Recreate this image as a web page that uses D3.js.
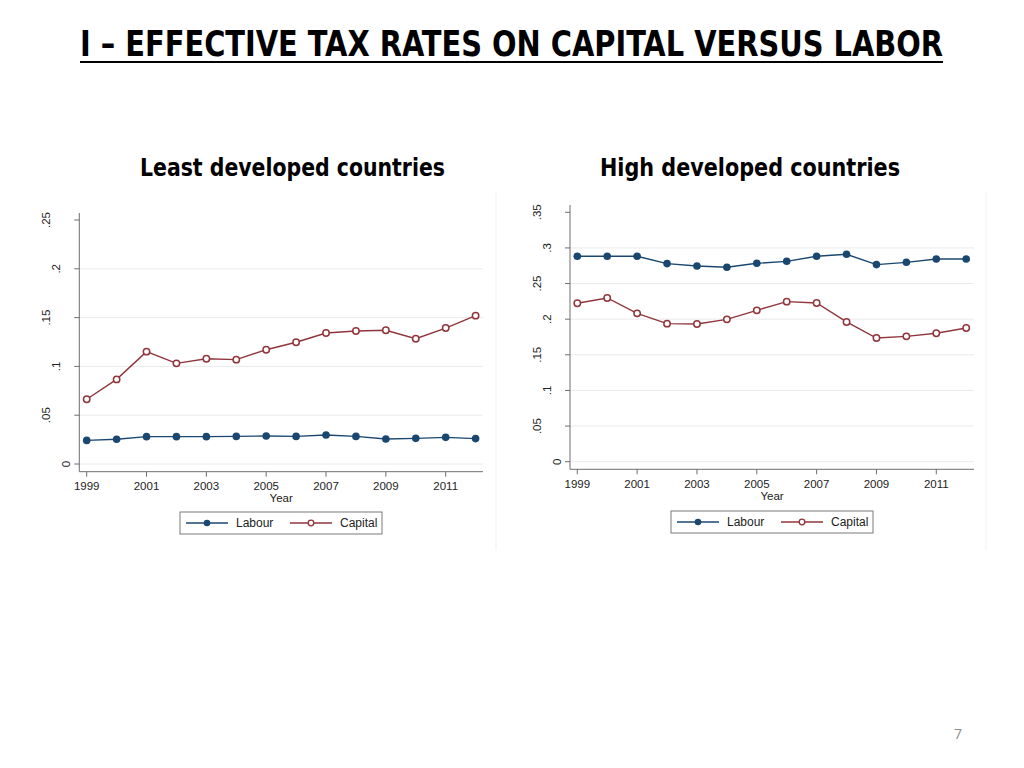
<!DOCTYPE html>
<html>
<head>
<meta charset="utf-8">
<script src="https://cdn.jsdelivr.net/npm/d3@7"></script>
<style>
  body { margin: 0; background: #fff; }
  svg { display: block; }
</style>
</head>
<body>
<script>
const years = [1999, 2000, 2001, 2002, 2003, 2004, 2005, 2006, 2007, 2008, 2009, 2010, 2011, 2012];
const xTicks = [1999, 2001, 2003, 2005, 2007, 2009, 2011];

const ldcLabour = [0.0242, 0.0253, 0.0280, 0.0280, 0.0280, 0.0283, 0.0287, 0.0283, 0.0297, 0.0283, 0.0256, 0.0263, 0.0273, 0.0260];
const ldcCapital = [0.0663, 0.0867, 0.1151, 0.1031, 0.1079, 0.1069, 0.1171, 0.1247, 0.1342, 0.1363, 0.1370, 0.1284, 0.1393, 0.1520];
const ldcTicks = [0, 0.05, 0.1, 0.15, 0.2, 0.25];
const ldcTickLabels = ["0", ".05", ".1", ".15", ".2", ".25"];

const hdcLabour = [0.2883, 0.2883, 0.2883, 0.2780, 0.2747, 0.2728, 0.2784, 0.2812, 0.2883, 0.2911, 0.2766, 0.2798, 0.2845, 0.2845];
const hdcCapital = [0.2223, 0.2298, 0.2082, 0.1937, 0.1933, 0.1998, 0.2124, 0.2246, 0.2227, 0.1961, 0.1736, 0.1759, 0.1802, 0.1876];
const hdcTicks = [0, 0.05, 0.1, 0.15, 0.2, 0.25, 0.3, 0.35];
const hdcTickLabels = ["0", ".05", ".1", ".15", ".2", ".25", ".3", ".35"];

const seriesNames = ["Labour", "Capital"];

const labourColor = "#1a476f";
const capitalColor = "#90353b";
const axisColor = "#6e6e6e";
const gridColor = "#eaeaea";
const tickFont = "'Liberation Sans', Arial, sans-serif";
const headFont = "'Liberation Sans Narrow', 'DejaVu Sans Condensed', 'Open Sans', sans-serif";

const svg = d3.select("body")
  .append("svg")
  .attr("width", 1024)
  .attr("height", 768);

// slide title
svg.append("text")
  .attr("x", 80)
  .attr("y", 56)
  .attr("textLength", 863)
  .attr("lengthAdjust", "spacingAndGlyphs")
  .style("font-family", headFont)
  .style("font-weight", "bold")
  .style("font-size", "35px")
  .style("fill", "#000")
  .text("I – EFFECTIVE TAX RATES ON CAPITAL VERSUS LABOR");

svg.append("line")
  .attr("x1", 80)
  .attr("x2", 943)
  .attr("y1", 62)
  .attr("y2", 62)
  .attr("stroke", "#000")
  .attr("stroke-width", 2);

svg.append("text")
  .attr("x", 958)
  .attr("y", 739)
  .attr("text-anchor", "middle")
  .style("font-family", "'Open Sans', sans-serif")
  .style("font-size", "14px")
  .style("fill", "#8c8c8c")
  .text("7");

// faint edges of the pasted graph images
svg.append("line")
  .attr("x1", 496).attr("x2", 496)
  .attr("y1", 192).attr("y2", 550)
  .attr("stroke", "#f1f1f1");
svg.append("line")
  .attr("x1", 986).attr("x2", 986)
  .attr("y1", 192).attr("y2", 550)
  .attr("stroke", "#f1f1f1");

function drawPanel(p) {
  const g = svg.append("g");

  g.append("text")
    .attr("x", p.titleX)
    .attr("y", 176)
    .attr("textLength", p.titleW)
    .attr("lengthAdjust", "spacingAndGlyphs")
    .style("font-family", headFont)
    .style("font-weight", "bold")
    .style("font-size", "25px")
    .style("fill", "#000")
    .text(p.title);

  const x = d3.scaleLinear().domain([1999, 2012]).range([p.x0, p.x1]);
  const y = d3.scaleLinear().domain([0, p.yMax]).range([p.y0, p.y1]);

  // gridlines
  g.selectAll(".grid")
    .data(p.ticks.slice(0, -1))
    .enter()
    .append("line")
    .attr("x1", p.axisX)
    .attr("x2", p.plotRight)
    .attr("y1", d => y(d))
    .attr("y2", d => y(d))
    .attr("stroke", gridColor)
    .attr("stroke-width", 1);

  // y axis
  g.append("line")
    .attr("x1", p.axisX).attr("x2", p.axisX)
    .attr("y1", p.axisTop).attr("y2", p.axisY)
    .attr("stroke", axisColor);

  g.selectAll(".ytick")
    .data(p.ticks)
    .enter()
    .append("line")
    .attr("x1", p.axisX - 5)
    .attr("x2", p.axisX)
    .attr("y1", d => y(d))
    .attr("y2", d => y(d))
    .attr("stroke", axisColor);

  g.selectAll(".ylab")
    .data(p.ticks)
    .enter()
    .append("text")
    .attr("transform", (d, i) => {
      const cx = p.axisX - 3 - 10 * p.tickLabels[i].length;
      return `translate(${cx},${y(d)}) rotate(-90)`;
    })
    .attr("text-anchor", "middle")
    .attr("dy", "0.35em")
    .style("font-family", tickFont)
    .style("font-size", "11.5px")
    .style("fill", "#222")
    .text((d, i) => p.tickLabels[i]);

  // x axis
  g.append("line")
    .attr("x1", p.axisX).attr("x2", p.plotRight)
    .attr("y1", p.axisY).attr("y2", p.axisY)
    .attr("stroke", axisColor);

  g.selectAll(".xtick")
    .data(xTicks)
    .enter()
    .append("line")
    .attr("x1", d => x(d))
    .attr("x2", d => x(d))
    .attr("y1", p.axisY)
    .attr("y2", p.axisY + 5)
    .attr("stroke", axisColor);

  g.selectAll(".xlab")
    .data(xTicks)
    .enter()
    .append("text")
    .attr("x", d => x(d))
    .attr("y", p.axisY + 18.5)
    .attr("text-anchor", "middle")
    .style("font-family", tickFont)
    .style("font-size", "11.5px")
    .style("fill", "#222")
    .text(d => d);

  g.append("text")
    .attr("x", (p.axisX + p.plotRight) / 2)
    .attr("y", p.axisY + 30.5)
    .attr("text-anchor", "middle")
    .style("font-family", tickFont)
    .style("font-size", "11.5px")
    .style("fill", "#222")
    .text("Year");

  const line = d3.line()
    .x((d, i) => x(years[i]))
    .y(d => y(d));

  // labour series
  g.append("path")
    .datum(p.labour)
    .attr("d", line)
    .attr("fill", "none")
    .attr("stroke", labourColor)
    .attr("stroke-width", 1.4);

  g.selectAll(".lab")
    .data(p.labour)
    .enter()
    .append("circle")
    .attr("cx", (d, i) => x(years[i]))
    .attr("cy", d => y(d))
    .attr("r", 3.8)
    .attr("fill", labourColor);

  // capital series
  g.append("path")
    .datum(p.capital)
    .attr("d", line)
    .attr("fill", "none")
    .attr("stroke", capitalColor)
    .attr("stroke-width", 1.4);

  g.selectAll(".cap")
    .data(p.capital)
    .enter()
    .append("circle")
    .attr("cx", (d, i) => x(years[i]))
    .attr("cy", d => y(d))
    .attr("r", 3.2)
    .attr("fill", "#fff")
    .attr("stroke", capitalColor)
    .attr("stroke-width", 1.5);

  // legend
  const lg = g.append("g").attr("transform", `translate(${p.legX},${p.legY})`);
  lg.append("rect")
    .attr("x", 0).attr("y", 0)
    .attr("width", 202).attr("height", 22)
    .attr("fill", "#fff")
    .attr("stroke", "#7a7a7a")
    .attr("stroke-width", 1);

  const colors = [labourColor, capitalColor];
  seriesNames.forEach((name, i) => {
    const ox = 6 + i * 104;
    lg.append("line")
      .attr("x1", ox).attr("x2", ox + 42)
      .attr("y1", 11).attr("y2", 11)
      .attr("stroke", colors[i])
      .attr("stroke-width", 1.4);
    lg.append("circle")
      .attr("cx", ox + 21)
      .attr("cy", 11)
      .attr("r", i === 0 ? 3.3 : 2.8)
      .attr("fill", i === 0 ? colors[i] : "#fff")
      .attr("stroke", colors[i])
      .attr("stroke-width", i === 0 ? 0 : 1.3);
    lg.append("text")
      .attr("x", ox + 50)
      .attr("y", 15)
      .style("font-family", tickFont)
      .style("font-size", "12px")
      .style("fill", "#222")
      .text(name);
  });
}

drawPanel({
  title: "Least developed countries",
  titleX: 140, titleW: 305,
  labour: ldcLabour, capital: ldcCapital,
  ticks: ldcTicks, tickLabels: ldcTickLabels, yMax: 0.25,
  x0: 86.7, x1: 475.6, y0: 464, y1: 220,
  axisX: 79.3, axisY: 471.7, axisTop: 213, plotRight: 483,
  legX: 180, legY: 512
});

drawPanel({
  title: "High developed countries",
  titleX: 600, titleW: 300,
  labour: hdcLabour, capital: hdcCapital,
  ticks: hdcTicks, tickLabels: hdcTickLabels, yMax: 0.35,
  x0: 577.3, x1: 966.2, y0: 461.7, y1: 212.3,
  axisX: 570, axisY: 469.3, axisTop: 205, plotRight: 974,
  legX: 671, legY: 511
});
</script>
</body>
</html>
